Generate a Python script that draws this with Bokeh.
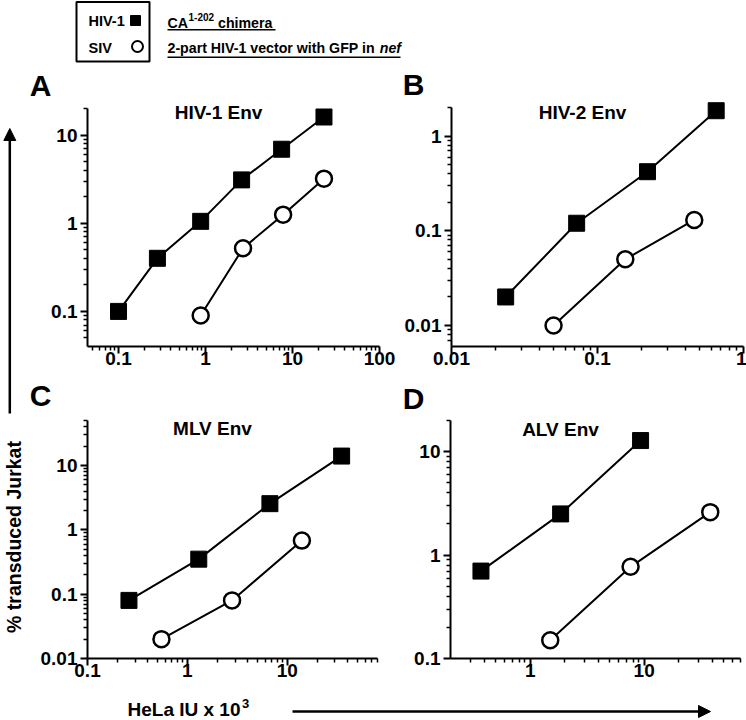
import math
from bokeh.plotting import figure
from bokeh.layouts import row, column
from bokeh.models import (Range1d, FixedTicker, Label, Arrow, NormalHead,
                          CustomJSTickFormatter)
from bokeh.embed import file_html
from bokeh.resources import INLINE

FONT = "Liberation Sans"

# ---------------- data ----------------
# Panel A : HIV-1 Env
a_hiv_x = [0.1, 0.28, 0.88, 2.6, 7.5, 23]
a_hiv_y = [0.1, 0.4, 1.05, 3.1, 6.9, 16]
a_siv_x = [0.88, 2.7, 7.8, 23]
a_siv_y = [0.09, 0.52, 1.25, 3.2]
# Panel B : HIV-2 Env
b_hiv_x = [0.0235, 0.072, 0.22, 0.65]
b_hiv_y = [0.02, 0.12, 0.42, 1.85]
b_siv_x = [0.05, 0.155, 0.46]
b_siv_y = [0.01, 0.05, 0.13]
# Panel C : MLV Env
c_hiv_x = [0.26, 1.3, 6.7, 35]
c_hiv_y = [0.08, 0.35, 2.55, 14]
c_siv_x = [0.55, 2.8, 14]
c_siv_y = [0.02, 0.08, 0.68]
# Panel D : ALV Env
d_hiv_x = [0.37, 1.85, 9.3]
d_hiv_y = [0.7, 2.5, 12.8]
d_siv_x = [1.5, 7.6, 38]
d_siv_y = [0.15, 0.77, 2.6]

# axis extents (where each axis line starts and ends), major ticks and tick labels
a_xbounds, a_ybounds = (0.044, 100), (0.04, 20)
b_xbounds, b_ybounds = (0.01, 1), (0.006, 2)
c_xbounds, c_ybounds = (0.1, 80), (0.01, 50)
d_xbounds, d_ybounds = (0.2, 70), (0.1, 20)

a_xticks, a_xlabels = [0.1, 1, 10, 100], ["0.1", "1", "10", "100"]
a_yticks, a_ylabels = [0.1, 1, 10], ["0.1", "1", "10"]
b_xticks, b_xlabels = [0.01, 0.1, 1], ["0.01", "0.1", "1"]
b_yticks, b_ylabels = [0.01, 0.1, 1], ["0.01", "0.1", "1"]
c_xticks, c_xlabels = [0.1, 1, 10], ["0.1", "1", "10"]
c_yticks, c_ylabels = [0.01, 0.1, 1, 10], ["0.01", "0.1", "1", "10"]
d_xticks, d_xlabels = [1, 10], ["1", "10"]
d_yticks, d_ylabels = [0.1, 1, 10], ["0.1", "1", "10"]

panel_titles = ["HIV-1 Env", "HIV-2 Env", "MLV Env", "ALV Env"]
panel_letters = ["A", "B", "C", "D"]
series_names = ["HIV-1", "SIV"]

FMT_CODE = """
for (let i = 0; i < vals.length; i++) {
  if (Math.abs(Math.log10(tick) - Math.log10(vals[i])) < 1e-6) return labels[i];
}
return "";
"""


def minor_ticks(lo, hi):
    out = []
    for e in range(-4, 4):
        for m in range(2, 10):
            v = m * 10.0 ** e
            if lo * 0.999 <= v <= hi * 1.001:
                out.append(v)
    return out


def ext_range(lo, hi, p_lo, p_hi, f_lo, f_hi):
    """Range whose frame (pixels f_lo..f_hi) puts the axis extent lo..hi at pixels p_lo..p_hi."""
    a, b = math.log10(lo), math.log10(hi)
    k = (b - a) / (p_hi - p_lo)
    return Range1d(10 ** (a + (f_lo - p_lo) * k), 10 ** (a + (f_hi - p_lo) * k))


def style_axis(ax, ticks, labels, bounds, standoff):
    ax.bounds = bounds
    ax.ticker = FixedTicker(ticks=ticks, minor_ticks=minor_ticks(*bounds))
    ax.formatter = CustomJSTickFormatter(args=dict(vals=ticks, labels=labels), code=FMT_CODE)
    ax.axis_line_width = 2
    ax.axis_line_color = "black"
    ax.major_tick_line_width = 2
    ax.major_tick_line_color = "black"
    ax.minor_tick_line_width = 1.5
    ax.minor_tick_line_color = "black"
    ax.major_tick_in = 0
    ax.major_tick_out = 7
    ax.minor_tick_in = 0
    ax.minor_tick_out = 4
    ax.major_label_text_font = FONT
    ax.major_label_text_font_style = "bold"
    ax.major_label_text_font_size = "19px"
    ax.major_label_text_color = "black"
    ax.major_label_standoff = standoff


def panel(fx, fy, size, mb, xb, yb, xpix, ypix, xt, xl, yt, yl, hx, hy, sx, sy, title, tpos):
    width, height = size
    f_left, f_right = fx + mb[0], fx + width - mb[1]
    f_top, f_bottom = fy + mb[2], fy + height - mb[3]
    p = figure(width=width, height=height, x_axis_type="log", y_axis_type="log", title=None,
               x_range=ext_range(xb[0], xb[1], xpix[0], xpix[1], f_left, f_right),
               y_range=ext_range(yb[0], yb[1], ypix[0], ypix[1], f_bottom, f_top),
               output_backend="svg", toolbar_location=None,
               min_border_left=mb[0], min_border_right=mb[1],
               min_border_top=mb[2], min_border_bottom=mb[3])
    p.grid.visible = False
    p.outline_line_color = None
    p.background_fill_color = "white"
    p.border_fill_color = "white"
    style_axis(p.xaxis[0], xt, xl, xb, -2)
    style_axis(p.yaxis[0], yt, yl, yb, 3)
    p.line(hx, hy, line_color="black", line_width=2)
    p.line(sx, sy, line_color="black", line_width=2)
    p.scatter(hx, hy, marker="square", size=16, fill_color="black", line_color="black")
    p.scatter(sx, sy, marker="circle", size=16, fill_color="white", line_color="black", line_width=2.5)
    p.add_layout(Label(x=tpos[0], y=tpos[1], x_units="screen", y_units="screen", text=title,
                       text_font=FONT, text_font_style="bold", text_font_size="19px",
                       text_align="center", text_baseline="middle", text_color="black"))
    return p


def deco(width, height):
    p = figure(width=width, height=height, x_range=Range1d(0, width), y_range=Range1d(height, 0),
               output_backend="svg", toolbar_location=None, title=None,
               x_axis_location=None, y_axis_location=None, min_border=0)
    p.grid.visible = False
    p.outline_line_color = None
    p.background_fill_color = "white"
    p.border_fill_color = "white"
    return p


def txt(p, x, y, text, size, style="bold", align="left", baseline="middle"):
    p.add_layout(Label(x=x, y=y, text=text, text_font=FONT, text_font_style=style,
                       text_font_size=size, text_align=align, text_baseline=baseline,
                       text_color="black"))


# ---------------- panels ----------------
pA = panel(28, 100, (367, 277), (59, 0, 0, 30), a_xbounds, a_ybounds, (87, 379), (347, 108),
           a_xticks, a_xlabels, a_yticks, a_ylabels,
           a_hiv_x, a_hiv_y, a_siv_x, a_siv_y, panel_titles[0], (131, 234.3))
pB = panel(395, 100, (351, 277), (56, 0, 0, 31), b_xbounds, b_ybounds, (451, 743), (346, 107),
           b_xticks, b_xlabels, b_yticks, b_ylabels,
           b_hiv_x, b_hiv_y, b_siv_x, b_siv_y, panel_titles[1], (131, 234.5))
pC = panel(28, 418, (367, 275), (59, 0, 0, 35), c_xbounds, c_ybounds, (87, 377), (658, 420),
           c_xticks, c_xlabels, c_yticks, c_ylabels,
           c_hiv_x, c_hiv_y, c_siv_x, c_siv_y, panel_titles[2], (125, 229.8))
pD = panel(395, 418, (351, 275), (55, 0, 0, 35), d_xbounds, d_ybounds, (450, 740), (658, 420),
           d_xticks, d_xlabels, d_yticks, d_ylabels,
           d_hiv_x, d_hiv_y, d_siv_x, d_siv_y, panel_titles[3], (110, 229))

# ---------------- header (legend + description + letters A, B) ----------------
hdr = deco(718, 100)
hdr.quad(left=[48], right=[121], top=[1.5], bottom=[61], fill_color=None,
         line_color="black", line_width=2)
txt(hdr, 60, 20, series_names[0], "14.5px")
txt(hdr, 60, 47, series_names[1], "14.5px")
hdr.scatter([107], [20], marker="square", size=10, fill_color="black", line_color="black")
hdr.scatter([109], [46], marker="circle", size=11, fill_color="white", line_color="black", line_width=2)
txt(hdr, 139, 22, "CA", "14.2px")
txt(hdr, 160, 16, "1-202", "10px")
txt(hdr, 189.5, 22, "chimera", "14.2px")
txt(hdr, 139, 47.5, "2-part HIV-1 vector with GFP in", "14.2px")
txt(hdr, 351.3, 47.5, "nef", "14.2px", style="bold italic")
hdr.segment(x0=[139, 139], y0=[29.3, 56.7], x1=[247, 372], y1=[29.3, 56.7],
            line_color="black", line_width=1.5)
txt(hdr, 12, 84.5, panel_letters[0], "30px", align="center")
txt(hdr, 385, 84, panel_letters[1], "30px", align="center")

# ---------------- strip between the rows (letters C, D) ----------------
mid = deco(718, 41)
txt(mid, 12, 18, panel_letters[2], "30px", align="center")
txt(mid, 385, 21, panel_letters[3], "30px", align="center")

# ---------------- left strip (y label) ----------------
side = deco(28, 720)
side.add_layout(Arrow(end=NormalHead(size=12, fill_color="black", line_color="black"),
                      x_start=9.3, y_start=413, x_end=9.3, y_end=128,
                      line_width=2.5, line_color="black"))
side.add_layout(Label(x=13, y=536.5, text="% transduced Jurkat", angle=math.pi / 2,
                      text_font=FONT, text_font_style="bold", text_font_size="19.5px",
                      text_align="center", text_baseline="middle", text_color="black"))

# ---------------- footer (x label) ----------------
ftr = deco(718, 27)
txt(ftr, 99, 16, "HeLa IU x 10", "19px")
txt(ftr, 213.5, 9.5, "3", "13px")
ftr.add_layout(Arrow(end=NormalHead(size=12, fill_color="black", line_color="black"),
                     x_start=264, y_start=18, x_end=682, y_end=18,
                     line_width=2.5, line_color="black"))

layout = row(side, column(hdr, row(pA, pB), mid, row(pC, pD), ftr))

open("out.html", "w").write(file_html(layout, INLINE))
